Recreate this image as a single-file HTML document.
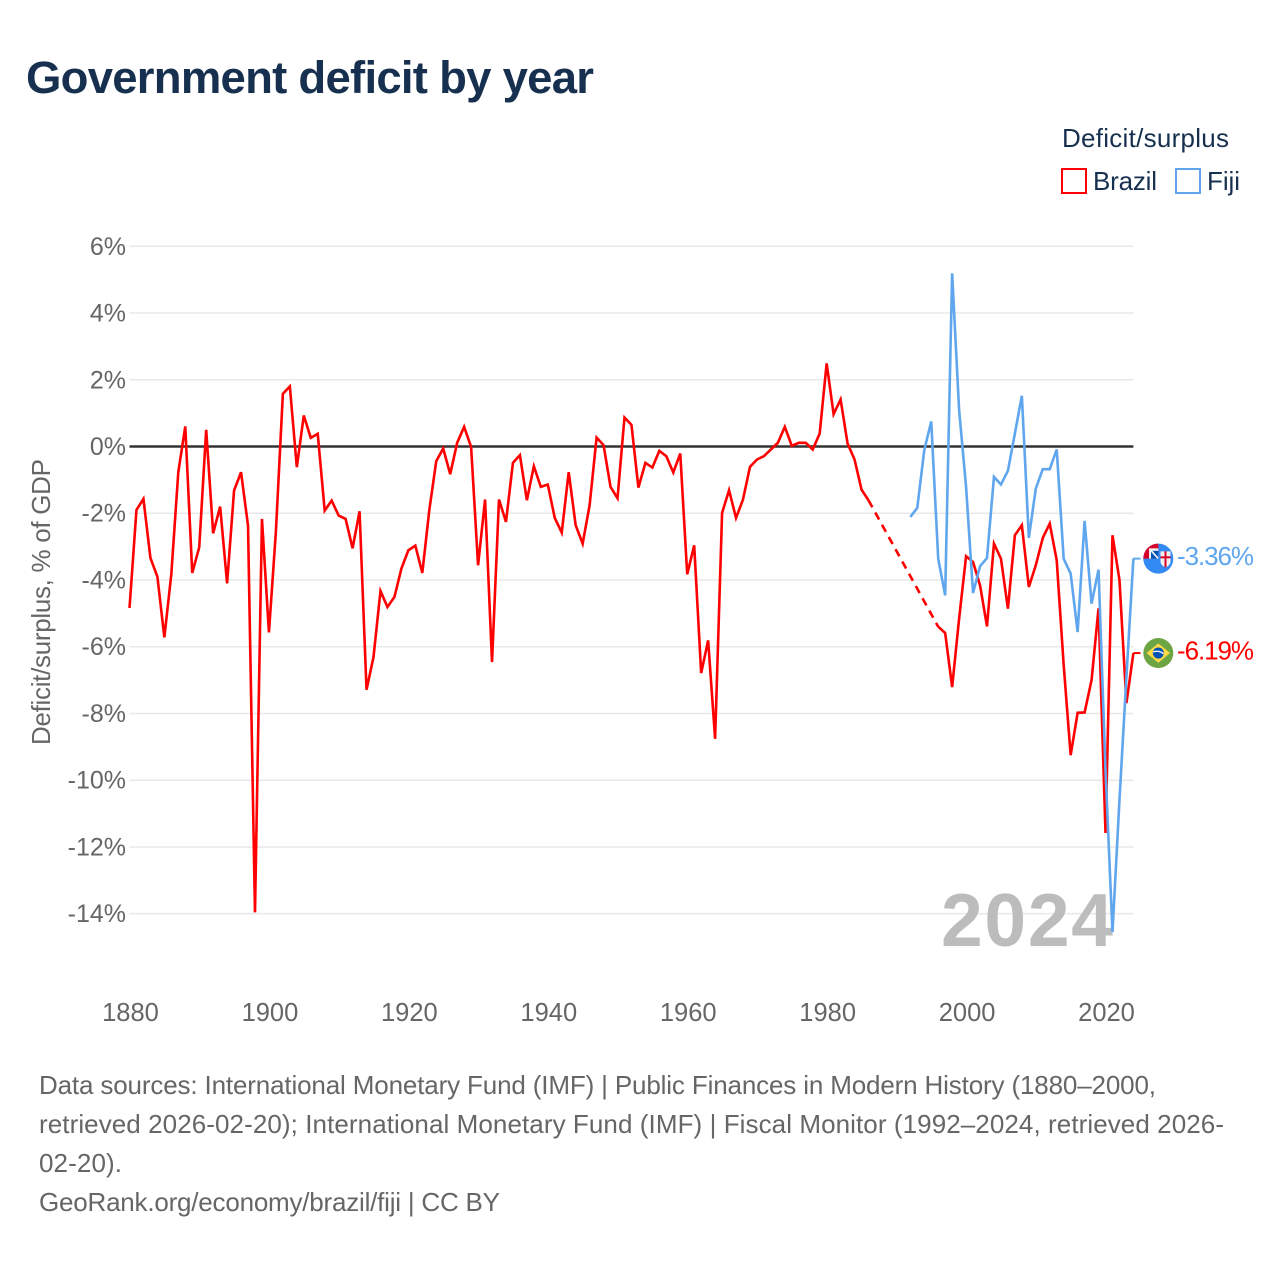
<!DOCTYPE html>
<html lang="en">
<head>
<meta charset="utf-8">
<title>Government deficit by year</title>
<style>
html,body{margin:0;padding:0;background:#fff;}
svg{display:block;font-family:"Liberation Sans",sans-serif;}
</style>
</head>
<body>
<svg id="chart" xmlns="http://www.w3.org/2000/svg" width="1280" height="1280" viewBox="0 0 1280 1280">
  <defs>
    <clipPath id="flag-clip-fiji"><circle id="fiji-clip-circle" cx="1158.3" cy="558.3" r="15"></circle></clipPath>
  </defs>
  <rect x="0" y="0" width="1280" height="1280" fill="#fff"></rect>
  <text x="26" y="93" font-size="45.500" font-weight="700" fill="#17304f" textLength="568" lengthAdjust="spacing">Government deficit by year</text>

  <g>
    <text x="1062" y="147" font-size="26" fill="#17304f" textLength="167" lengthAdjust="spacing">Deficit/surplus</text>
    <g>
      <rect x="1062" y="169" width="24" height="24" fill="#fff" stroke="#ff0000" stroke-width="2"></rect>
      <text x="1093" y="190" font-size="26" fill="#17304f" textLength="64" lengthAdjust="spacing">Brazil</text>
    </g>
    <g>
      <rect x="1176" y="169" width="24" height="24" fill="#fff" stroke="#5fa6ee" stroke-width="2"></rect>
      <text x="1207" y="190" font-size="26" fill="#17304f" textLength="33" lengthAdjust="spacing">Fiji</text>
    </g>
  </g>

  <text transform="translate(50,745) rotate(-90)" x="0" y="0" font-size="26" fill="#666" textLength="286" lengthAdjust="spacing">Deficit/surplus, % of GDP</text>

  <g id="grid"></g>
  <g id="yticks"></g>
  <g id="xticks"></g>
  <text x="941" y="946" font-size="75" font-weight="700" fill="#bcbcbc" textLength="172" lengthAdjust="spacing">2024</text>
  <g id="series"></g>

  <g id="marker-fiji">
    <g clip-path="url(#flag-clip-fiji)">
      <rect x="1143" y="543" width="31" height="31" fill="#338af3"></rect>
      <rect x="1143" y="543" width="15.3" height="15.3" fill="#d80027"></rect>
      <rect x="1149" y="548" width="9.3" height="10.3" fill="#f0f0f0"></rect>
      <rect x="1151" y="550.500" width="7.3" height="7.8" fill="#0052b4"></rect>
      <line x1="1150" y1="549" x2="1158" y2="558" stroke="#f0f0f0" stroke-width="1.800"></line>
      <path d="M1160.500 551h10v10c0 3-2.500 5-5 6c-2.500-1-5-3-5-6z" fill="#f0f0f0"></path>
      <rect x="1164.500" y="551" width="2" height="16" fill="#d80027"></rect>
      <rect x="1160.500" y="556" width="10" height="2" fill="#d80027"></rect>
    </g>
  </g>
  <g id="marker-brazil">
    <circle cx="1158.3" cy="652.7" r="15" fill="#6da544"></circle>
    <path d="M1158.300 643l11.700 9.700l-11.700 9.700l-11.700-9.700z" fill="#ffda44"></path>
    <circle cx="1158.3" cy="652.7" r="5.500" fill="#0052b4"></circle>
    <path d="M1153 651.500c4-1 8-.5 10.500 2" fill="none" stroke="#f0f0f0" stroke-width="1.300"></path>
  </g>

  <g id="end-labels"></g>

  <g font-size="26" fill="#666">
    <text x="39" y="1094" textLength="1117" lengthAdjust="spacing">Data sources: International Monetary Fund (IMF) | Public Finances in Modern History (1880–2000,</text>
    <text x="39" y="1133" textLength="1185" lengthAdjust="spacing">retrieved 2026-02-20); International Monetary Fund (IMF) | Fiscal Monitor (1992–2024, retrieved 2026-</text>
    <text x="39" y="1172" textLength="83" lengthAdjust="spacing">02-20).</text>
    <text x="39" y="1211" textLength="461" lengthAdjust="spacing">GeoRank.org/economy/brazil/fiji | CC BY</text>
  </g>
</svg>

<script>
var yTickValues = [6, 4, 2, 0, -2, -4, -6, -8, -10, -12, -14];
var xTickYears = [1880, 1900, 1920, 1940, 1960, 1980, 2000, 2020];
var startYear = 1880;

var brazilValues = [
  -4.84, -1.90, -1.57, -3.34, -3.90, -5.72, -3.82, -0.77, 0.60, -3.79,
  -3.02, 0.50, -2.60, -1.80, -4.10, -1.32, -0.77, -2.37, -13.96, -2.17,
  -5.57, -2.55, 1.58, 1.80, -0.62, 0.93, 0.26, 0.38, -1.92, -1.62,
  -2.07, -2.17, -3.05, -1.94, -7.29, -6.31, -4.33, -4.81, -4.51, -3.66,
  -3.11, -2.97, -3.79, -1.91, -0.44, -0.06, -0.83, 0.11, 0.59, -0.01,
  -3.56, -1.59, -6.46, -1.59, -2.26, -0.49, -0.26, -1.61, -0.59, -1.21,
  -1.14, -2.14, -2.58, -0.77, -2.36, -2.91, -1.76, 0.27, 0.04, -1.21,
  -1.55, 0.87, 0.65, -1.23, -0.49, -0.63, -0.13, -0.29, -0.78, -0.21,
  -3.83, -2.96, -6.79, -5.81, -8.76, -1.99, -1.31, -2.14, -1.59, -0.61,
  -0.39, -0.29, -0.09, 0.11, 0.59, 0.02, 0.11, 0.11, -0.09, 0.39,
  2.49, 0.97, 1.41, 0.09, -0.39, -1.29, -1.61, null, null, null,
  null, null, null, null, null, null, -5.40, -5.59, -7.21, -5.16,
  -3.29, -3.46, -4.16, -5.39, -2.91, -3.36, -4.86, -2.66, -2.36, -4.21,
  -3.56, -2.74, -2.31, -3.41, -6.55, -9.25, -7.98, -7.97, -7.00, -4.85,
  -11.58, -2.66, -4.00, -7.69, -6.19
];

var fijiStartYear = 1992;
var fijiValues = [
  -2.11, -1.84, -0.11, 0.75, -3.36, -4.46, 5.19, 1.09, -1.21, -4.39,
  -3.59, -3.34, -0.91, -1.14, -0.73, 0.39, 1.52, -2.74, -1.26, -0.68,
  -0.68, -0.09, -3.36, -3.81, -5.56, -2.23, -4.71, -3.69, -9.70, -14.55,
  -10.60, -6.90, -3.36
];

var SVG_NS = 'http://www.w3.org/2000/svg';
function xScale(year) { return 129.5 + (year - 1880) * (1133.4 - 129.5) / 144; }
function yScale(v) { return 446.5 - v * 33.37; }
function svgEl(tag, parent) {
  var el = document.createElementNS(SVG_NS, tag);
  parent.appendChild(el);
  return el;
}

var gridG = document.getElementById('grid');
var yTicksG = document.getElementById('yticks');
var xTicksG = document.getElementById('xticks');
var seriesG = document.getElementById('series');
var labelsG = document.getElementById('end-labels');

yTickValues.forEach(function (v) {
  var line = svgEl('line', gridG);
  
  
  line.setAttribute('x1', xScale(startYear));
  line.setAttribute('x2', xScale(2024));
  line.setAttribute('y1', yScale(v));
  line.setAttribute('y2', yScale(v));
  line.setAttribute('stroke', v === 0 ? '#333' : '#e8e8e8');
  line.setAttribute('stroke-width', v === 0 ? '2.6' : '1.5');

  var t = svgEl('text', yTicksG);
  
  
  t.setAttribute('x', 126);
  t.setAttribute('y', yScale(v) + 8.5);
  t.setAttribute('text-anchor', 'end');
  t.setAttribute('font-size', '25');
  t.setAttribute('fill', '#666');
  t.textContent = v + '%';
});

xTickYears.forEach(function (yr) {
  var t = svgEl('text', xTicksG);
  
  
  t.setAttribute('x', xScale(yr) + 1);
  t.setAttribute('y', 1021);
  t.setAttribute('text-anchor', 'middle');
  t.setAttribute('font-size', '25.5');
  t.setAttribute('fill', '#666');
  t.textContent = String(yr);
});

function drawSeries(name, color, firstYear, values) {
  var solid = '';
  var dashed = '';
  var prev = null;
  values.forEach(function (v, i) {
    if (v === null) { return; }
    var x = xScale(firstYear + i).toFixed(2);
    var y = yScale(v).toFixed(2);
    if (prev === null) {
      solid += 'M' + x + ' ' + y;
    } else if (prev.i === i - 1) {
      solid += 'L' + x + ' ' + y;
    } else {
      dashed += 'M' + prev.x + ' ' + prev.y + 'L' + x + ' ' + y;
      solid += 'M' + x + ' ' + y;
    }
    prev = { i: i, x: x, y: y };
  });
  var p = svgEl('path', seriesG);
  
  
  p.setAttribute('d', solid);
  p.setAttribute('fill', 'none');
  p.setAttribute('stroke', color);
  p.setAttribute('stroke-width', '2.6');
  p.setAttribute('stroke-linejoin', 'miter');
  if (dashed) {
    var d = svgEl('path', seriesG);
    
    
    d.setAttribute('d', dashed);
    d.setAttribute('fill', 'none');
    d.setAttribute('stroke', color);
    d.setAttribute('stroke-width', '2.6');
    d.setAttribute('stroke-dasharray', '8 6');
  }
  var last = values[values.length - 1];
  var yEnd = yScale(last);
  var conn = svgEl('line', seriesG);
  
  
  conn.setAttribute('x1', xScale(2024));
  conn.setAttribute('x2', 1140.5);
  conn.setAttribute('y1', yEnd);
  conn.setAttribute('y2', yEnd);
  conn.setAttribute('stroke', color);
  conn.setAttribute('stroke-width', '2');

  var lab = svgEl('text', labelsG);
  
  
  lab.setAttribute('x', 1177);
  lab.setAttribute('y', yEnd + 6.5);
  lab.setAttribute('font-size', '26');
  lab.setAttribute('fill', color);
  lab.setAttribute('textLength', '77');
  lab.setAttribute('lengthAdjust', 'spacing');
  lab.textContent = last.toFixed(2) + '%';

  var marker = document.getElementById('marker-' + name);
  marker.setAttribute('transform', 'translate(0,' + (yEnd - (name === 'fiji' ? 558.3 : 652.7)).toFixed(2) + ')');
}

drawSeries('brazil', '#ff0000', startYear, brazilValues);
drawSeries('fiji', '#5fa6ee', fijiStartYear, fijiValues);
</script>
</body>
</html>
